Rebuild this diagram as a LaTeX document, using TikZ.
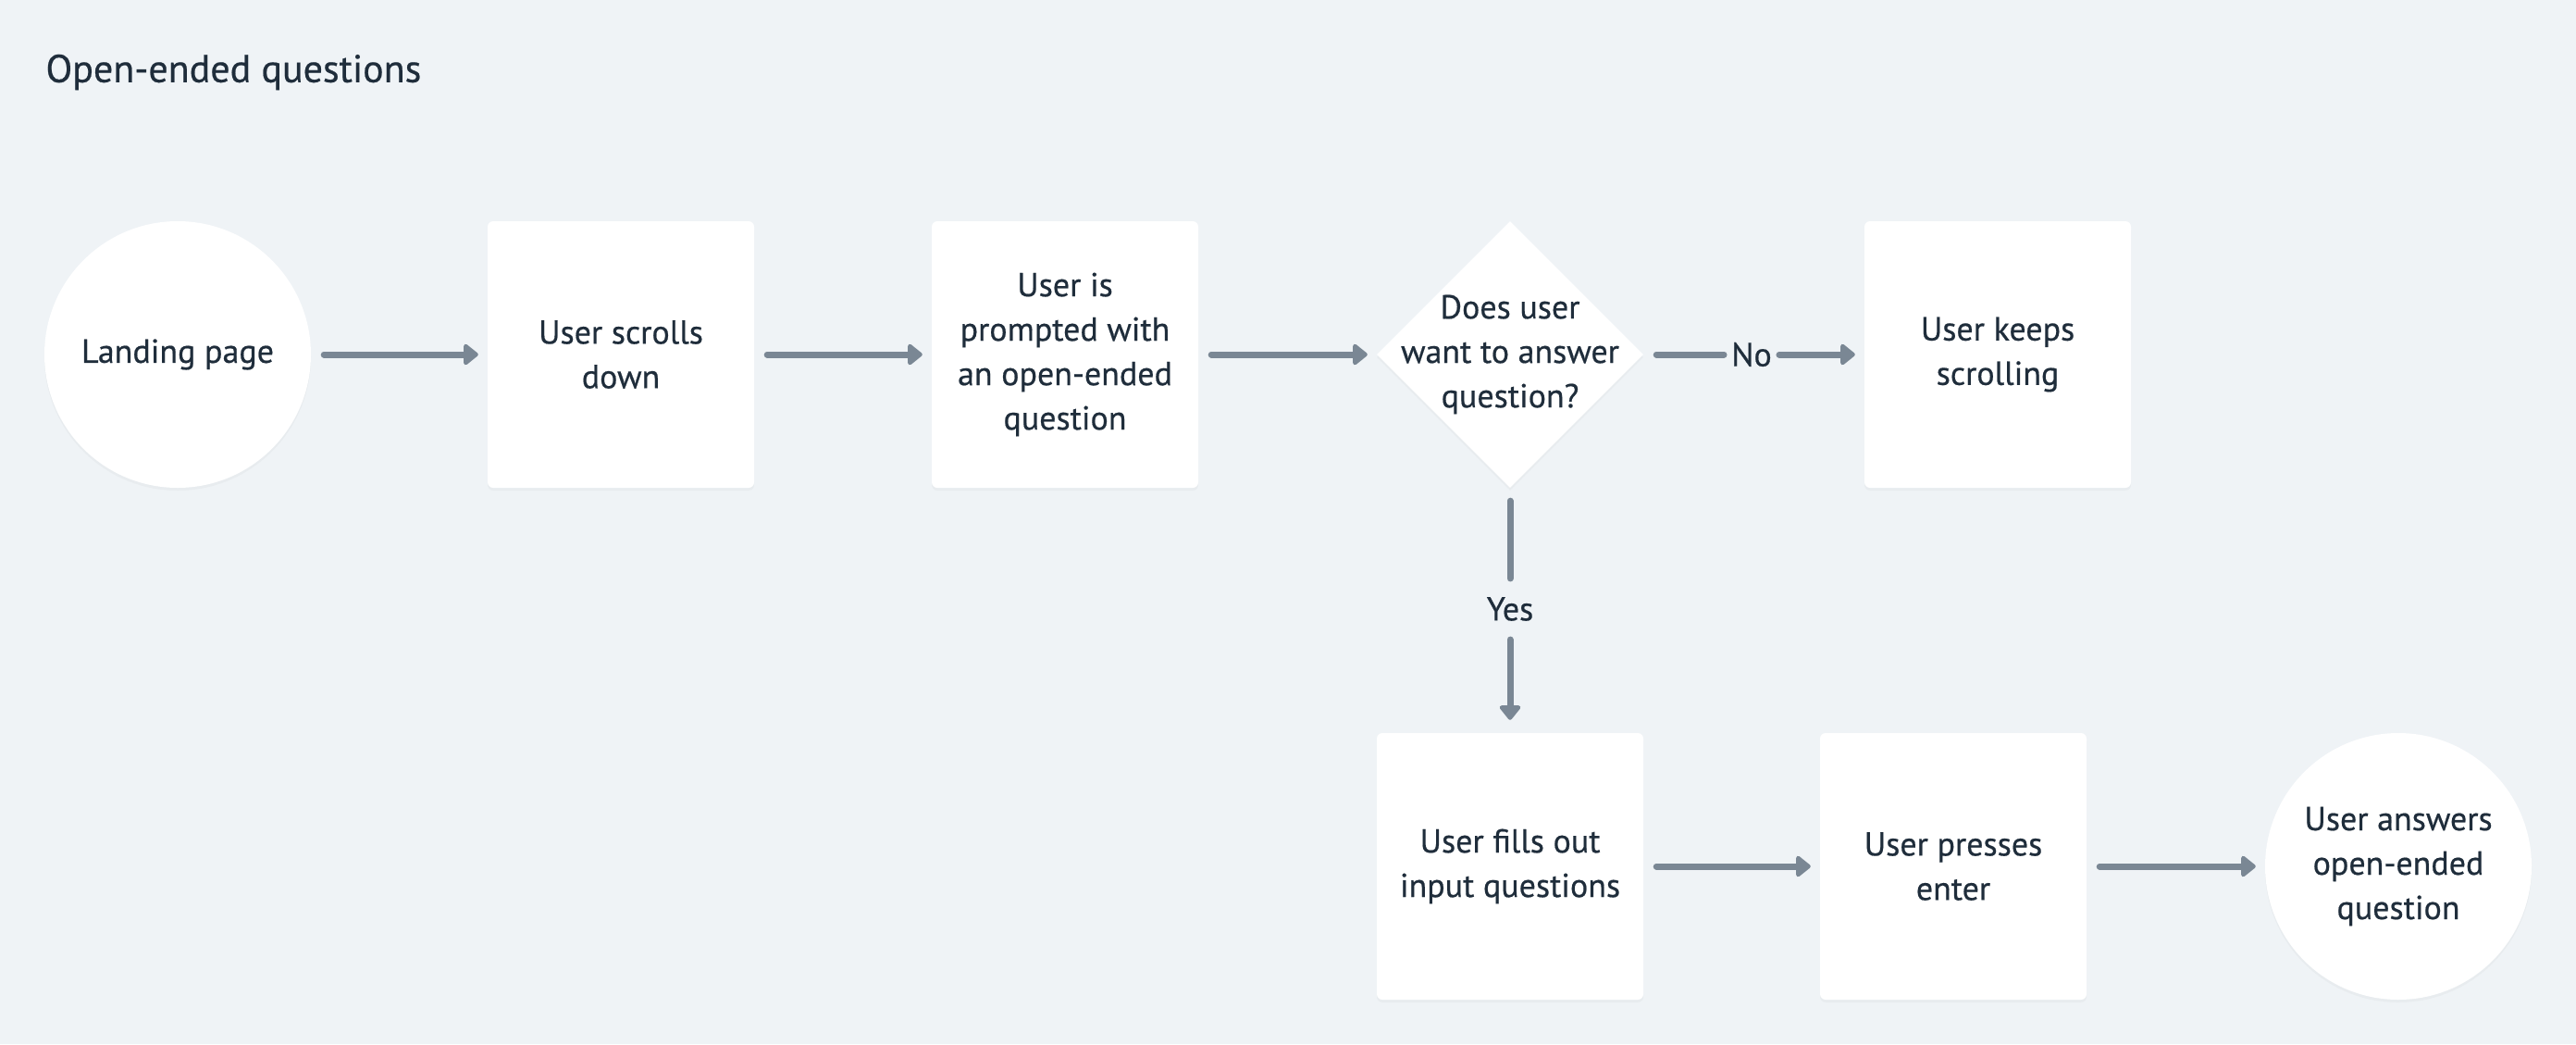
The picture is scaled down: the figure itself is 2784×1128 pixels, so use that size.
\documentclass[tikz,border=0pt]{standalone}
\usepackage{fontspec}
\setmainfont{PT Sans}[FakeBold=0.5]
\usetikzlibrary{arrows.meta,shapes.geometric,shadows}
\definecolor{bg}{HTML}{EFF3F6}
\definecolor{ink}{HTML}{1F2D3B}
\definecolor{arr}{HTML}{7A8794}
\tikzset{
  every node/.style={font=\fontsize{36}{48}\selectfont, text=ink},
  shad/.style={drop shadow={opacity=0.06, shadow xshift=0pt, shadow yshift=-3pt}},
  stepbox/.style={shad, fill=white, rounded corners=6pt, minimum width=288pt, minimum height=288pt, inner sep=0pt, align=center},
  endcirc/.style={shad, fill=white, circle, minimum size=288pt, inner sep=0pt, align=center},
  decis/.style={shad, fill=white, diamond, minimum width=288pt, minimum height=288pt, inner sep=0pt, aspect=1},
  flow/.style={draw=arr, line width=7pt, line cap=round, -{Triangle[length=17pt,width=26pt,round]}},
  plain/.style={draw=arr, line width=7pt, line cap=round},
  lbl/.style={inner sep=0pt}
}
\begin{document}
\begin{tikzpicture}[x=1pt,y=-1pt]
\fill[bg] (0,0) rectangle (2784,1128);
\useasboundingbox (0,0) rectangle (2784,1128);
\node[anchor=west, font=\fontsize{42}{48}\selectfont] (title) at (46,78) {Open-ended questions};

\node[endcirc] (land) at (192,383) {Landing page};
\node[stepbox] (scroll) at (671,383) {User scrolls\\down};
\node[stepbox] (prompt) at (1151,383) {User is\\prompted with\\an open-ended\\question};
\node[decis, label={[align=center, font=\fontsize{36}{48}\selectfont, text=ink]center:Does user\\want to answer\\question?}] (dec) at (1632,383) {};
\node[stepbox] (keep) at (2159,383) {User keeps\\scrolling};
\node[stepbox] (fill) at (1632,936) {User fills out\\input questions};
\node[stepbox] (press) at (2111,936) {User presses\\enter};
\node[endcirc] (ans) at (2592,936) {User answers\\open-ended\\question};

\node[lbl] (no) at (1893,383) {No};
\node[lbl] (yes) at (1632,658) {Yes};

\draw[flow] ([xshift=14pt]land.east) -- ([xshift=-10pt]scroll.west);
\draw[flow] ([xshift=14pt]scroll.east) -- ([xshift=-10pt]prompt.west);
\draw[flow] ([xshift=14pt]prompt.east) -- ([xshift=-10pt]dec.west);
\draw[plain] ([xshift=14pt]dec.east) -- ([xshift=-8pt]no.west);
\draw[flow] ([xshift=8pt]no.east) -- ([xshift=-10pt]keep.west);
\draw[plain] ([yshift=-14pt]dec.south) -- ([yshift=20pt]yes.north);
\draw[flow] ([yshift=-20pt]yes.south) -- ([yshift=14pt]fill.north);
\draw[flow] ([xshift=14pt]fill.east) -- ([xshift=-10pt]press.west);
\draw[flow] ([xshift=14pt]press.east) -- ([xshift=-10pt]ans.west);
\end{tikzpicture}
\end{document}
